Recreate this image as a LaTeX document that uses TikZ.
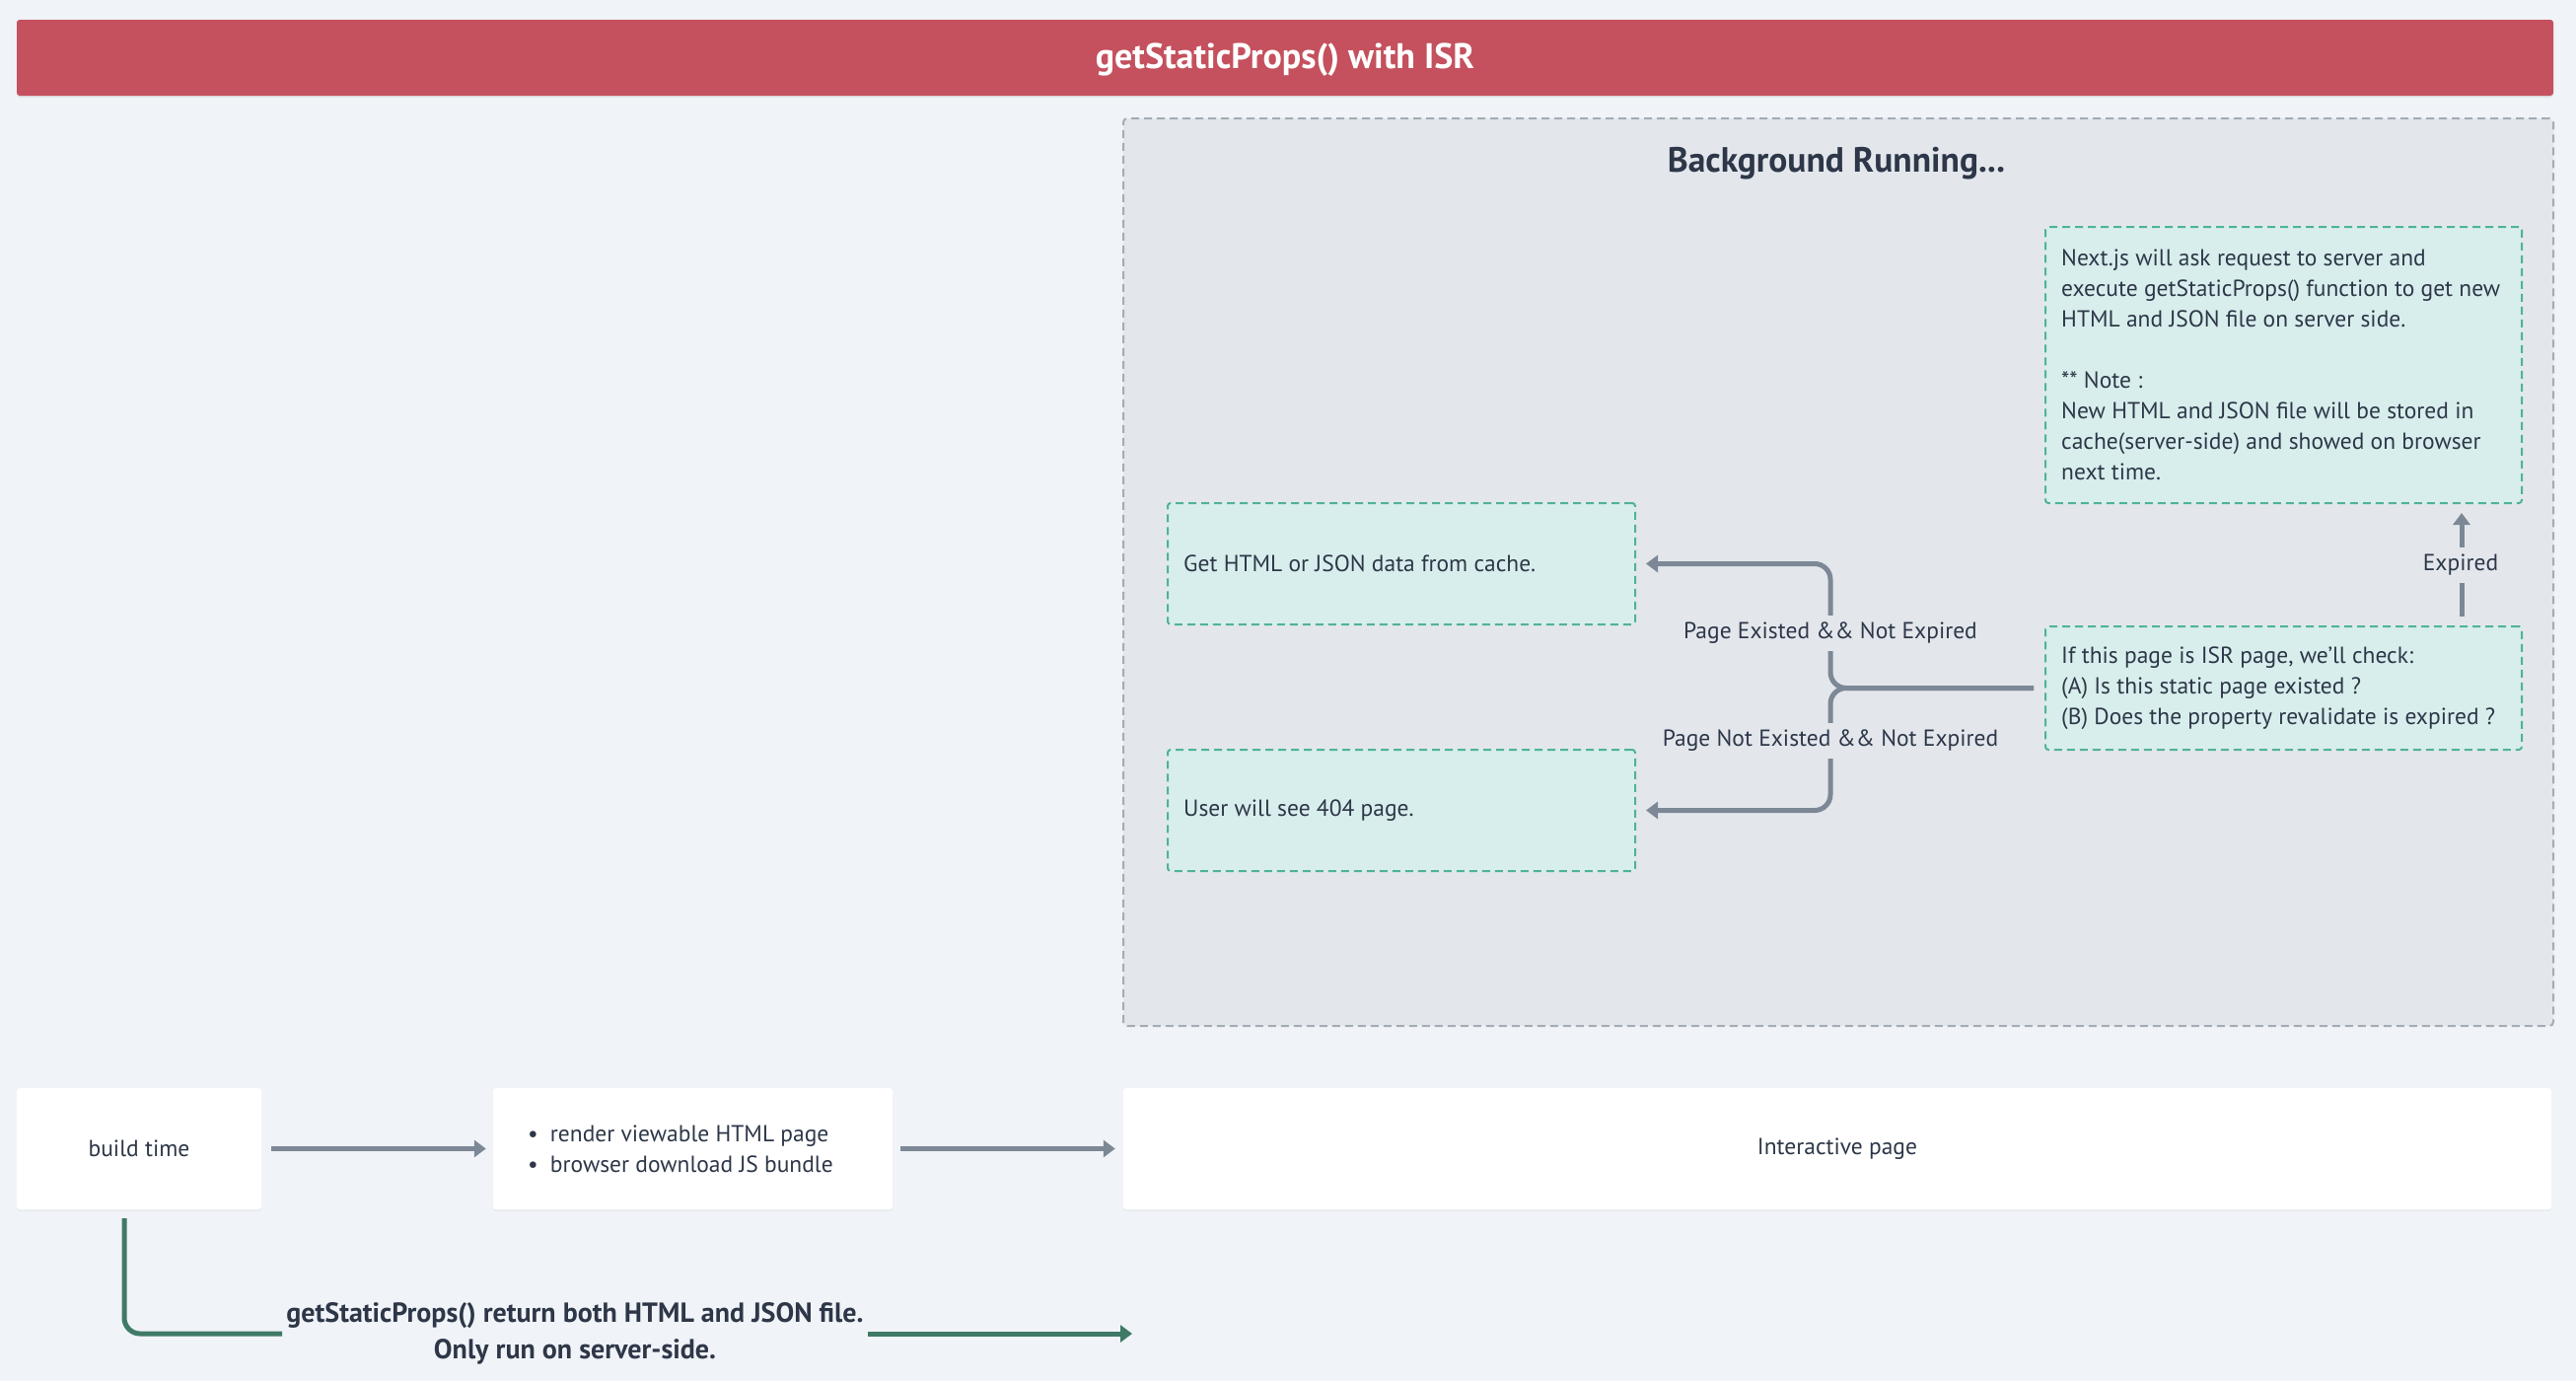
\documentclass[tikz,border=0pt]{standalone}
\usepackage{fontspec}
\setmainfont{PT Sans}
\usetikzlibrary{arrows.meta,shadows,calc}
\definecolor{pagebg}{HTML}{F0F3F7}
\definecolor{titlered}{HTML}{C4515D}
\definecolor{bgfill}{HTML}{E3E7EC}
\definecolor{bgborder}{HTML}{A3ACB6}
\definecolor{greenfill}{HTML}{D8EEEC}
\definecolor{greenborder}{HTML}{4FB29B}
\definecolor{arrowgray}{HTML}{7C8896}
\definecolor{arrowgreen}{HTML}{3E7A66}
\definecolor{textdark}{HTML}{2D3748}
\begin{document}
\begin{tikzpicture}[x=1pt,y=-1pt,
  every node/.style={text=textdark, font=\fontsize{23.5}{31}\selectfont},
  titlebox/.style={fill=titlered, rounded corners=3pt, inner sep=0pt, text=white,
    font=\bfseries\fontsize{36}{40}\selectfont,
    drop shadow={opacity=0.12, shadow xshift=0pt, shadow yshift=-2pt}},
  bgbox/.style={draw=bgborder, line width=2pt, dash pattern=on 8pt off 5pt, fill=bgfill,
    rounded corners=4pt, inner sep=0pt},
  bgtitle/.style={font=\bfseries\fontsize{35.5}{40}\selectfont, inner sep=0pt},
  gbox/.style={draw=greenborder, line width=2pt, dash pattern=on 8pt off 5pt, fill=greenfill,
    rounded corners=3pt, inner sep=0pt},
  whitebox/.style={fill=white, rounded corners=3pt, inner sep=0pt,
    drop shadow={opacity=0.06, shadow xshift=0pt, shadow yshift=-2pt}},
  txt/.style={align=left, inner sep=0pt},
  arr/.style={draw=arrowgray, line width=5pt, -{Triangle[length=12pt,width=17pt]}},
  garr/.style={draw=arrowgreen, line width=5pt, -{Triangle[length=12pt,width=17pt]}},
  gline/.style={draw=arrowgreen, line width=5pt},
  blabel/.style={fill=bgfill, inner xsep=4pt, inner ysep=7pt},
  glabel/.style={fill=pagebg, align=center, inner xsep=4pt, inner ysep=2pt,
    font=\bfseries\fontsize{28}{37}\selectfont}
]
\fill[pagebg] (0,0) rectangle (2612,1400);
\useasboundingbox (0,0) rectangle (2612,1400);

% title
\node[titlebox, minimum width=2572pt, minimum height=77pt] (title) at (1303,58.5) {};
\node[font=\bfseries\fontsize{36}{40}\selectfont, text=white, inner sep=0pt] (titletxt) at (1303,61) {getStaticProps() with ISR};

% background area
\node[bgbox, minimum width=1450pt, minimum height=920pt] (bg) at (1864,580) {};
\node[bgtitle] (bgt) at (1862,166) {Background Running...};

% green boxes
\node[gbox, minimum width=483pt, minimum height=280pt] (next) at (2315.5,370) {};
\node[txt, anchor=west] (nexttxt) at ([xshift=17pt]next.west) {Next.js will ask request to server and\\execute getStaticProps() function to get new\\HTML and JSON file on server side.\\[31pt]** Note :\\New HTML and JSON file will be stored in\\cache(server-side) and showed on browser\\next time.};

\node[gbox, minimum width=474pt, minimum height=123pt] (cache) at (1421,571.5) {};
\node[txt, anchor=west] (cachetxt) at ([xshift=17pt]cache.west) {Get HTML or JSON data from cache.};

\node[gbox, minimum width=483pt, minimum height=125pt] (isr) at (2315.5,697.5) {};
\node[txt, anchor=west] (isrtxt) at ([xshift=17pt]isr.west) {If this page is ISR page, we'll check:\\(A) Is this static page existed ?\\(B) Does the property revalidate is expired ?};

\node[gbox, minimum width=474pt, minimum height=123pt] (nf) at (1421,821.5) {};
\node[txt, anchor=west] (nftxt) at ([xshift=17pt]nf.west) {User will see 404 page.};

% bottom row
\node[whitebox, minimum width=248pt, minimum height=123pt] (build) at (141,1164.5) {\raisebox{-2pt}{build time}};
\node[whitebox, minimum width=405pt, minimum height=123pt] (render) at (702.5,1164.5) {};
\node[txt, anchor=west] (rendertxt) at ([xshift=35pt]render.west) {\makebox[23pt][l]{\textbullet}render viewable HTML page\\\makebox[23pt][l]{\textbullet}browser download JS bundle};
\node[whitebox, minimum width=1448pt, minimum height=123pt] (inter) at (1863,1164.5) {\raisebox{-3pt}{Interactive page}};

% bottom arrows
\draw[arr] ([xshift=10pt]build.east) -- ([xshift=-7pt]render.west);
\draw[arr] ([xshift=8pt]render.east) -- ([xshift=-8pt]inter.west);

% green path
\coordinate (gstart) at ($(build.south)+(-15,9)$);
\coordinate (gend) at (1148,1352);
\node[glabel] (glab) at (583,1352) {getStaticProps() return both HTML and JSON file.\\Only run on server-side.};
\draw[gline, rounded corners=16pt] (gstart) |- (glab.west);
\draw[garr] (glab.east) -- (gend);

% ISR branches
\coordinate (jx) at (1856,600);
\coordinate (isrL) at ([xshift=-11pt]isr.west);
\coordinate (cacheR) at ([xshift=10pt]cache.east);
\coordinate (nfR) at ([xshift=10pt]nf.east);
\draw[arr, rounded corners=16pt] (isrL) -- (isrL -| jx) |- (cacheR);
\draw[arr, rounded corners=16pt] (isrL) -- (isrL -| jx) |- (nfR);
\node[blabel] (lab1) at (1856,642) {Page Existed \&\& Not Expired};
\node[blabel] (lab2) at (1856,751) {Page Not Existed \&\& Not Expired};

% expired
\coordinate (exS) at ($(isr.north east)+(-62,-9)$);
\coordinate (exE) at ($(next.south east)+(-62,9)$);
\draw[arr] (exS) -- (exE);
\node[blabel] (lab3) at (2495,573) {Expired};
\end{tikzpicture}
\end{document}
